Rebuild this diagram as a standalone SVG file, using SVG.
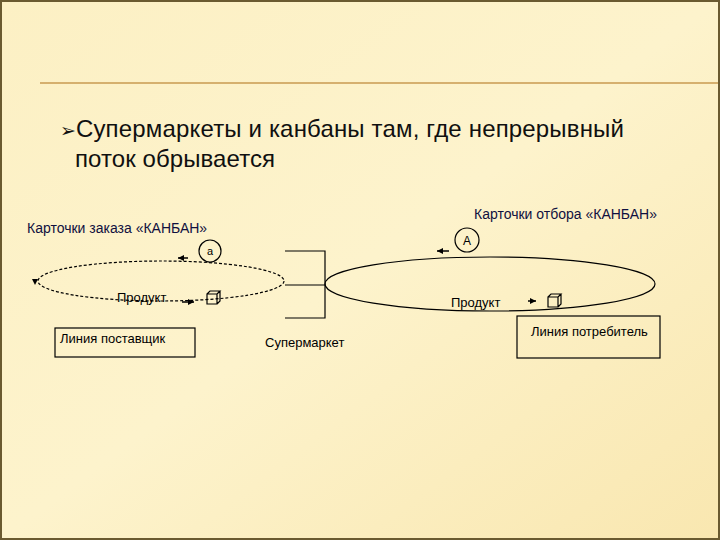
<svg xmlns="http://www.w3.org/2000/svg" width="720" height="540" viewBox="0 0 720 540">
<defs>
<linearGradient id="bg" x1="0" y1="0" x2="1" y2="1"><stop offset="0" stop-color="#fcf0c4"/><stop offset="0.5" stop-color="#fdf3cc"/><stop offset="1" stop-color="#f9e7b0"/></linearGradient>
<marker id="ah" viewBox="0 0 10 10" refX="10" refY="5" markerWidth="4" markerHeight="4" orient="auto"><path d="M0,0 L10,5 L0,10 z" fill="#000"/></marker>
</defs>
<style>
text{font-family:"Liberation Sans",Arial,sans-serif;fill:#000}
.s{font-size:13px}
.lbl{font-size:14px;fill:#101040}
.t{font-size:24px;fill:#101010}
.ln{stroke:#000;stroke-width:1.2;fill:none}
.ar{stroke:#000;stroke-width:1.5;fill:none;marker-end:url(#ah)}
</style>
<rect width="720" height="540" fill="url(#bg)"/>
<rect x="1" y="1" width="718" height="538" fill="none" stroke="#6a5a30" stroke-width="2"/>
<line x1="40" y1="83" x2="718" y2="83" stroke="#c89a50" stroke-width="1.5"/>
<text class="t" x="60" y="137"><tspan font-family="DejaVu Sans" font-size="19">➢</tspan><tspan textLength="548" lengthAdjust="spacing">Супермаркеты и канбаны там, где непрерывный</tspan></text>
<text class="t" x="75" y="167" textLength="200" lengthAdjust="spacing">поток обрывается</text>
<g id="connectors">
<ellipse cx="161" cy="281" rx="123" ry="20" class="ln" stroke-dasharray="3,2"/>
<ellipse cx="490" cy="284" rx="165" ry="27" class="ln"/>
<line x1="188" y1="258" x2="178" y2="258" class="ar"/>
<line x1="182" y1="302" x2="194" y2="302" class="ar"/>
<line x1="449" y1="251" x2="437" y2="251" class="ar"/>
<line x1="528" y1="301" x2="536" y2="301" class="ar"/>
<path d="M32,279 L38,279 L35,285 z" fill="#000"/>
</g>
<g id="supermarket">
<path d="M285,251 H325 V318 H285 M285,285 H325" class="ln"/>
<text class="s" x="265" y="347">Супермаркет</text>
</g>
<g id="order-kanban"><text class="lbl" x="27" y="233">Карточки заказа «КАНБАН»</text></g>
<g id="pick-kanban"><text class="lbl" x="474" y="219">Карточки отбора «КАНБАН»</text></g>
<g id="card-a"><circle cx="210" cy="251" r="11" class="ln" stroke-width="1"/><text x="210" y="255" font-size="11" text-anchor="middle">a</text></g>
<g id="card-A"><circle cx="467" cy="240" r="12" class="ln" stroke-width="1"/><text x="467" y="245" font-size="12" text-anchor="middle">A</text></g>
<g id="product-left"><text class="s" x="117" y="302">Продукт</text>
<path d="M207,294 h10 v10 h-10 z M207,294 l3,-3 h10 l-3,3 M217,304 l3,-3 v-10" class="ln" stroke-width="1"/></g>
<g id="product-right"><text class="s" x="451" y="307">Продукт</text>
<path d="M548,297 h10 v10 h-10 z M548,297 l3,-3 h10 l-3,3 M558,307 l3,-3 v-10" class="ln" stroke-width="1"/></g>
<g id="supplier"><rect x="55" y="328" width="140" height="29" class="ln" stroke-width="1"/><text class="s" x="60" y="343">Линия поставщик</text></g>
<g id="consumer"><rect x="517" y="316" width="143" height="42" class="ln" stroke-width="1"/><text class="s" x="531" y="336">Линия потребитель</text></g>
</svg>
